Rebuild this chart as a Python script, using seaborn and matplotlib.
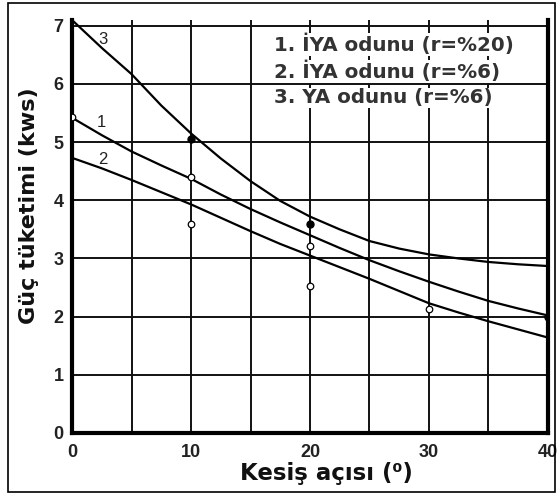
import pandas as pd
import matplotlib.pyplot as plt
import seaborn as sns
from matplotlib.patches import Rectangle

# Kesiş açısı (derece) ve eğrilerden okunan güç tüketimi (kws)
aci = [0, 2.5, 5, 7.5, 10, 12.5, 15, 17.5, 20, 22.5, 25, 27.5, 30, 32.5, 35, 37.5, 40]
egri1 = [5.42, 5.12, 4.84, 4.60, 4.37, 4.10, 3.85, 3.62, 3.40, 3.18, 2.97, 2.78, 2.60, 2.43, 2.27, 2.14, 2.02]
egri2 = [4.73, 4.55, 4.35, 4.14, 3.93, 3.70, 3.47, 3.25, 3.05, 2.85, 2.65, 2.44, 2.23, 2.07, 1.92, 1.78, 1.64]
egri3 = [7.10, 6.62, 6.17, 5.63, 5.15, 4.72, 4.33, 3.99, 3.72, 3.50, 3.30, 3.17, 3.07, 3.00, 2.94, 2.90, 2.87]

# Ölçüm noktaları
acik_x = [0, 10, 10, 20, 20, 30]
acik_y = [5.44, 4.40, 3.60, 3.22, 2.53, 2.14]
dolu_x = [10, 20, 40]
dolu_y = [5.05, 3.60, 1.99]

etiketler = ["1. İYA odunu (r=%20)", "2. İYA odunu (r=%6)", "3. YA odunu (r=%6)"]
x_ticks = [0, 10, 20, 30, 40]
y_ticks = [0, 1, 2, 3, 4, 5, 6, 7]

sns.set_theme(style="white")
plt.rcParams["font.family"] = ["Liberation Sans", "DejaVu Sans"]

df = pd.DataFrame({"aci": aci * 3,
                   "guc": egri1 + egri2 + egri3,
                   "egri": ["1"] * len(aci) + ["2"] * len(aci) + ["3"] * len(aci)})

fig = plt.figure(figsize=(5.57, 4.95), dpi=100)
ax = fig.add_axes([0.1293, 0.1253, 0.8545, 0.8343])

# ızgara
for gx in range(5, 40, 5):
    ax.axvline(gx, color="#111111", lw=1.4, zorder=1)
for gy in range(1, 8):
    ax.axhline(gy, color="#111111", lw=1.4, zorder=1)

sns.lineplot(data=df, x="aci", y="guc", units="egri", estimator=None,
             color="black", lw=1.6, ax=ax, zorder=3)
sns.scatterplot(x=acik_x, y=acik_y, marker="o", s=22, facecolor="white",
                edgecolor="black", linewidth=0.9, ax=ax, zorder=4)
sns.scatterplot(x=dolu_x, y=dolu_y, marker="o", s=26, facecolor="black",
                edgecolor="black", linewidth=0.9, ax=ax, zorder=4)

ax.set_xlim(0, 40)
ax.set_ylim(0, 7.1)
ax.set_xticks(x_ticks)
ax.set_yticks(y_ticks)
ax.set_xticklabels([str(t) for t in x_ticks], fontsize=13, fontweight="bold")
ax.set_yticklabels([str(t) for t in y_ticks], fontsize=13, fontweight="bold")
ax.tick_params(axis="y", length=0, pad=6, colors="#222222")
ax.tick_params(axis="x", length=0, pad=8, colors="#222222")

for s in ["left", "bottom", "right"]:
    ax.spines[s].set_linewidth(3)
    ax.spines[s].set_color("black")
ax.spines["top"].set_visible(False)

ax.set_xlabel("Kesiş açısı (⁰)", fontsize=16.5, fontweight="bold",
              family="DejaVu Sans", color="#111111")
ax.set_ylabel("Güç tüketimi (kws)", fontsize=16, fontweight="bold",
              family="DejaVu Sans", color="#111111")
ax.xaxis.set_label_coords(0.535, -0.07)
ax.yaxis.set_label_coords(-0.07, 0.55)

# eğri numaraları
ax.text(2.6, 6.76, "3", fontsize=12, ha="center", va="center", color="#222222")
ax.text(2.5, 5.33, "1", fontsize=12, ha="center", va="center", color="#222222")
ax.text(2.6, 4.71, "2", fontsize=12, ha="center", va="center", color="#222222")

# açıklama
for i, lab in enumerate(etiketler):
    ax.text(17.0, 6.68 - i * 0.46, lab, fontsize=14.3, fontweight="bold",
            family="DejaVu Sans", color="#333333", ha="left", va="center", zorder=5,
            bbox=dict(facecolor="white", edgecolor="none", pad=0.5))

fig.patches.append(Rectangle((8 / 557, 3 / 495), 547 / 557, 489 / 495,
                             transform=fig.transFigure, fill=False,
                             edgecolor="black", lw=1.2))

plt.savefig("out.png", dpi=100)
plt.close()
